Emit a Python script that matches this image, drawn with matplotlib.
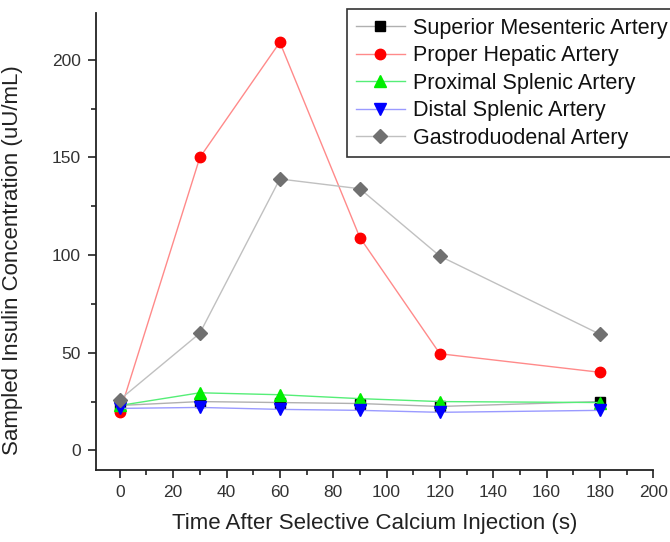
import matplotlib
matplotlib.use("Agg")
import matplotlib.pyplot as plt
from matplotlib.ticker import MultipleLocator

plt.rcParams['font.family'] = ['Liberation Sans', 'DejaVu Sans']

time_s = [0, 30, 60, 90, 120, 180]
superior_mesenteric = [23, 25, 24.5, 24, 22.5, 25]
proper_hepatic = [19.5, 150, 209, 109, 49.5, 40]
proximal_splenic = [23, 29.5, 28.5, 26.5, 25, 24.5]
distal_splenic = [21.5, 22, 21, 20.5, 19.5, 20.5]
gastroduodenal = [26, 60, 139, 134, 99.5, 59.5]

series = [
    ("Superior Mesenteric Artery", superior_mesenteric, "#b0b0b0", "#000000", "s", 6.5),
    ("Proper Hepatic Artery", proper_hepatic, "#ff8a8a", "#ff0000", "o", 7.5),
    ("Proximal Splenic Artery", proximal_splenic, "#55ee77", "#00ee00", "^", 8.5),
    ("Distal Splenic Artery", distal_splenic, "#9a9aff", "#0000ff", "v", 8.5),
    ("Gastroduodenal Artery", gastroduodenal, "#c0c0c0", "#707070", "D", 7),
]

fig = plt.figure(figsize=(6.7, 5.42), dpi=100)
ax = fig.add_axes([0.143, 0.133, 0.832, 0.843])

for label, vals, lc, mc, mk, ms in series:
    ax.plot(time_s, vals, color=lc, lw=1.0, marker=mk, markersize=ms,
            markerfacecolor=mc, markeredgecolor=mc, label=label)

ax.set_xlim(-9, 200)
ax.set_ylim(-10, 224)
ax.xaxis.set_major_locator(MultipleLocator(20))
ax.xaxis.set_minor_locator(MultipleLocator(10))
ax.yaxis.set_major_locator(MultipleLocator(50))
ax.yaxis.set_minor_locator(MultipleLocator(25))

for s in ['top', 'right']:
    ax.spines[s].set_visible(False)
for s in ['left', 'bottom']:
    ax.spines[s].set_linewidth(1.3)
    ax.spines[s].set_color('#222222')

ax.tick_params(which='major', length=6, width=1.2, direction='out', labelsize=12.5,
               colors='#222222', labelcolor='#333333', pad=5)
ax.tick_params(which='minor', length=3.5, width=1.2, direction='out', colors='#222222')

ax.set_xlabel("Time After Selective Calcium Injection (s)", fontsize=16, color='#222222', labelpad=9)
ax.set_ylabel("Sampled Insulin Concentration (uU/mL)", fontsize=16, color='#222222')
ax.yaxis.set_label_coords(-0.13, 0.46)

leg = ax.legend(loc='upper left', bbox_to_anchor=(0.518, 0.983), bbox_transform=fig.transFigure,
                borderaxespad=0, fontsize=15.5, frameon=True, fancybox=False, framealpha=1,
                edgecolor='#333333', handlelength=2.3, handletextpad=0.37, labelspacing=0.3,
                borderpad=0.4)
leg.get_frame().set_linewidth(1.2)
for t in leg.get_texts():
    t.set_color('#111111')

fig.savefig("out.png", dpi=100)
